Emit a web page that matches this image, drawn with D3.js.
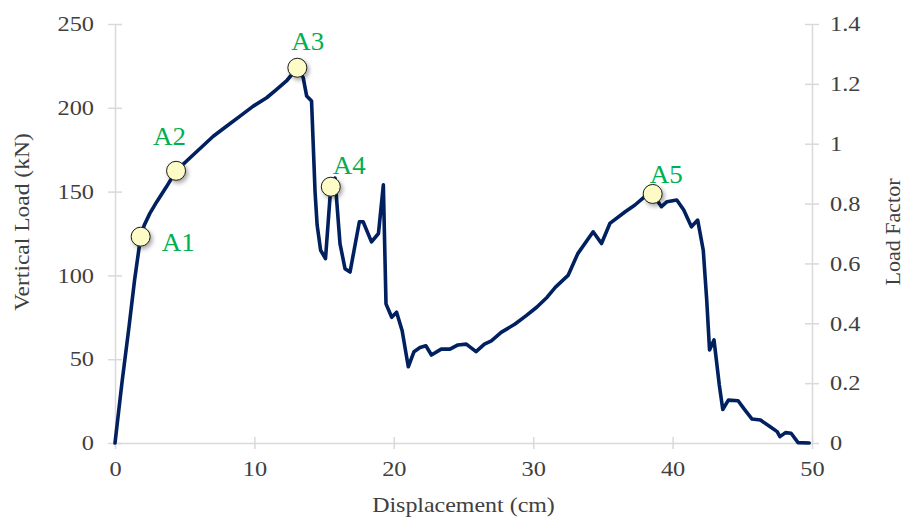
<!DOCTYPE html>
<html>
<head>
<meta charset="utf-8">
<script src="https://cdn.jsdelivr.net/npm/d3@7"></script>
<style>
  body { margin: 0; background: #ffffff; }
  svg { display: block; }
  text { font-family: "Liberation Serif", "Times New Roman", serif; }
</style>
</head>
<body>
<svg id="chart" width="904" height="518"></svg>
<script>
// Load–displacement response of the specimen
const displacement = [
  0, 0.5, 1.0, 1.4, 1.84, 2.1, 2.5, 3.0, 3.7, 4.38, 5.62, 7.05, 8.0, 8.97, 9.92,
  10.88, 11.6, 12.3, 13.08, 13.5, 13.75, 14.1, 14.35, 14.5, 14.75, 15.1, 15.48, 15.78, 16.14,
  16.5, 16.86, 17.53, 17.8, 18.4, 18.9, 19.25, 19.44, 19.85, 20.2, 20.6, 21.04, 21.45, 21.88,
  22.3, 22.7, 23.4, 24.03, 24.6, 25.2, 25.9, 26.5, 27.0, 27.7, 28.7, 29.5, 30.25, 31.0, 31.6,
  32.5, 33.2, 34.3, 34.9, 35.5, 36.6, 37.3, 38.0, 38.57, 39.2, 39.6, 40.3, 40.8, 41.35, 41.8,
  42.2, 42.45, 42.65, 42.97, 43.35, 43.6, 44.0, 44.7, 45.1, 45.7, 46.3, 47.0, 47.5, 47.7,
  48.1, 48.5, 49.0, 49.8
];
const verticalLoad = [
  0, 36, 69, 97, 123.1, 130, 137, 144, 153, 162.4, 172, 183, 189, 195, 201,
  206, 211, 216, 223.9, 218, 207, 204, 150, 130, 115, 110, 152.9, 158, 119,
  104, 102, 132, 132, 120, 125, 154, 83, 75, 78, 67, 45.5, 54.5, 57,
  58, 52.5, 56, 56, 58.5, 59, 54.5, 59, 61, 66, 71, 76, 81, 87, 93,
  100, 113, 126, 119, 131, 138, 142, 147, 148.6, 141, 144, 145, 139, 129, 133,
  115, 85, 55.5, 61.5, 34.6, 20, 25.6, 25.2, 20.7, 14.3, 13.7, 9.7, 6.8, 3.8,
  6.2, 5.8, 0.2, 0
];

// Marked stages along the curve
const stageNames = ["A1", "A2", "A3", "A4", "A5"];
const stageDisp = [1.84, 4.38, 13.08, 15.48, 38.57];
const stageLoad = [123.1, 162.4, 223.9, 152.9, 148.6];
// label placement relative to each marker (px)
const stageLabelOffset = [[21, 14], [-23, -26], [-6, -18], [2, -13], [-3, -11]];

// Axis ticks
const dispTicks = [0, 10, 20, 30, 40, 50];
const loadTicks = [0, 50, 100, 150, 200, 250];
const factorTicks = [0, 0.2, 0.4, 0.6, 0.8, 1, 1.2, 1.4];

const svg = d3.select("#chart");

const x = d3.scaleLinear().domain([0, 50]).range([115, 812]);
const yLoad = d3.scaleLinear().domain([0, 250]).range([443, 24]);
const yFactor = d3.scaleLinear().domain([0, 1.4]).range([443, 24]);

const axisColor = "#d9d9d9";
const labelColor = "#404040";
const tickFont = 21;
const stretch = 1.16;

const defs = svg.append("defs");
const shadow = defs.append("filter").attr("id", "markerShadow")
  .attr("x", "-50%").attr("y", "-50%").attr("width", "200%").attr("height", "200%");
shadow.append("feDropShadow")
  .attr("dx", 2).attr("dy", 2.5).attr("stdDeviation", 2)
  .attr("flood-color", "#000").attr("flood-opacity", 0.35);

function styleAxis(g) {
  g.select(".domain").attr("stroke", axisColor).attr("stroke-width", 1.5);
  g.selectAll(".tick line").attr("stroke", axisColor).attr("stroke-width", 1.5);
  g.selectAll(".tick text").attr("fill", labelColor).attr("font-size", tickFont)
    .attr("font-family", '"Liberation Serif", "Times New Roman", serif');
}

// Bottom axis (ticks cross the axis line)
const gx = svg.append("g").attr("transform", `translate(0,${yLoad(0)})`)
  .call(d3.axisBottom(x).tickValues(dispTicks).tickSizeInner(6).tickSizeOuter(0).tickPadding(12).tickFormat(d3.format("d")));
styleAxis(gx);
gx.selectAll(".tick line").attr("y1", -6).attr("y2", 6);
gx.selectAll(".tick text").attr("dy", "0.71em").attr("transform", `scale(${stretch},1)`).attr("x", 0);

// Left axis
const gy = svg.append("g").attr("transform", `translate(${x(0)},0)`)
  .call(d3.axisLeft(yLoad).tickValues(loadTicks).tickSizeInner(7).tickSizeOuter(0).tickPadding(14));
styleAxis(gy);
gy.selectAll(".tick line").attr("x1", -7).attr("x2", 7);
gy.selectAll(".tick text").attr("transform", `translate(-21,0) scale(${stretch},1)`).attr("x", 0);

// Right axis
const gr = svg.append("g").attr("transform", `translate(${x(50)},0)`)
  .call(d3.axisRight(yFactor).tickValues(factorTicks).tickSizeInner(7).tickSizeOuter(0).tickPadding(14).tickFormat(d3.format("")));
styleAxis(gr);
gr.selectAll(".tick line").attr("x1", -7).attr("x2", 7);
gr.selectAll(".tick text").attr("transform", `translate(18,0) scale(${stretch},1)`).attr("x", 0);

// Axis titles
svg.append("text")
  .attr("transform", `translate(${(x(0) + x(50)) / 2},512) scale(1.14,1)`)
  .attr("text-anchor", "middle").attr("font-size", tickFont).attr("fill", labelColor)
  .text("Displacement (cm)");

svg.append("text")
  .attr("transform", `translate(29,222) rotate(-90) scale(1.12,1)`)
  .attr("text-anchor", "middle").attr("font-size", tickFont).attr("fill", labelColor)
  .text("Vertical Load (kN)");

svg.append("text")
  .attr("transform", `translate(900,232) rotate(-90) scale(1.05,1)`)
  .attr("text-anchor", "middle").attr("font-size", tickFont).attr("fill", labelColor)
  .text("Load Factor");

// Response curve
const line = d3.line()
  .x((d, i) => x(displacement[i]))
  .y((d, i) => yLoad(verticalLoad[i]));

svg.append("path")
  .attr("d", line(displacement))
  .attr("fill", "none")
  .attr("stroke", "#002060")
  .attr("stroke-width", 3.6)
  .attr("stroke-linejoin", "round")
  .attr("stroke-linecap", "round");

// Stage markers and labels
const stages = stageNames.map((name, i) => ({ name, d: stageDisp[i], v: stageLoad[i], off: stageLabelOffset[i] }));

svg.append("g").selectAll("circle").data(stages).join("circle")
  .attr("cx", s => x(s.d))
  .attr("cy", s => yLoad(s.v))
  .attr("r", 9.5)
  .attr("fill", "#fdfbc6")
  .attr("stroke", "#1a1a1a")
  .attr("stroke-width", 1)
  .attr("filter", "url(#markerShadow)");

svg.append("g").selectAll("text").data(stages).join("text")
  .attr("transform", s => `translate(${x(s.d) + s.off[0]},${yLoad(s.v) + s.off[1]}) scale(1.08,1)`)
  .attr("font-size", 25)
  .attr("fill", "#00b050")
  .text(s => s.name);
</script>
</body>
</html>
